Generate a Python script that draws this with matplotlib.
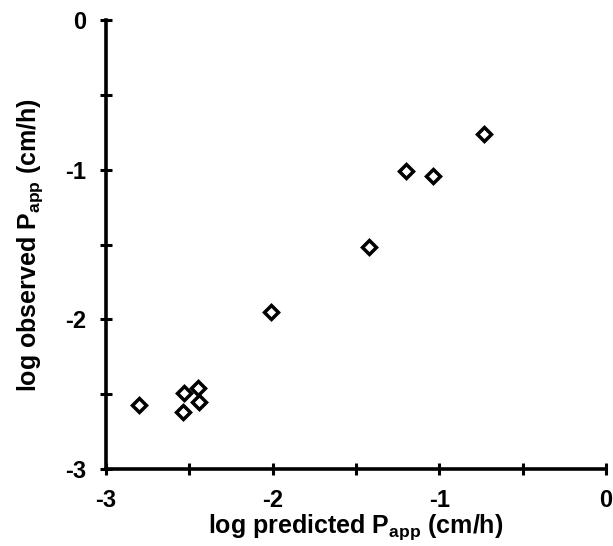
import matplotlib
matplotlib.use("Agg")
import matplotlib.pyplot as plt
from matplotlib.ticker import MultipleLocator

# Data
log_predicted = [-2.80, -2.54, -2.53, -2.45, -2.44, -2.01, -1.42, -1.20, -1.04, -0.73]
log_observed = [-2.57, -2.62, -2.49, -2.46, -2.55, -1.95, -1.52, -1.01, -1.04, -0.76]
major_ticks = [-3, -2, -1, 0]
tick_labels = ["-3", "-2", "-1", "0"]

plt.rcParams['font.family'] = ['Liberation Sans', 'DejaVu Sans']
plt.rcParams['font.weight'] = 'bold'
plt.rcParams['mathtext.fontset'] = 'custom'
plt.rcParams['mathtext.rm'] = 'Liberation Sans:bold'
plt.rcParams['mathtext.bf'] = 'Liberation Sans:bold'
plt.rcParams['mathtext.it'] = 'Liberation Sans:bold'

fig = plt.figure(figsize=(6.13, 5.46), dpi=100)
ax = fig.add_axes([106/613, 1-469/546, 500/613, 449/546])

ax.plot(log_predicted, log_observed, linestyle='none', marker='D', ms=7,
        mfc='white', mec='black', mew=2.5)

ax.set_xlim(-3, 0)
ax.set_ylim(-3, 0)
ax.set_xticks(major_ticks)
ax.set_xticklabels(tick_labels)
ax.set_yticks(major_ticks)
ax.set_yticklabels(tick_labels)
ax.xaxis.set_minor_locator(MultipleLocator(0.5))
ax.yaxis.set_minor_locator(MultipleLocator(0.5))

for s in ['top', 'right']:
    ax.spines[s].set_visible(False)
for s in ['left', 'bottom']:
    ax.spines[s].set_linewidth(2.6)
    ax.spines[s].set_color('black')

ax.tick_params(which='both', direction='inout', length=9, width=2.2,
               labelsize=17, colors='black')
ax.tick_params(axis='y', pad=10)
ax.tick_params(axis='x', pad=10)

ax.set_xlabel(r'log predicted P$_{\mathrm{app}}$ (cm/h)', fontsize=18,
              fontweight='bold', labelpad=0)
ax.set_ylabel(r'log observed P$_{\mathrm{app}}$ (cm/h)', fontsize=18,
              fontweight='bold', labelpad=14)

fig.savefig('out.png', dpi=100)
